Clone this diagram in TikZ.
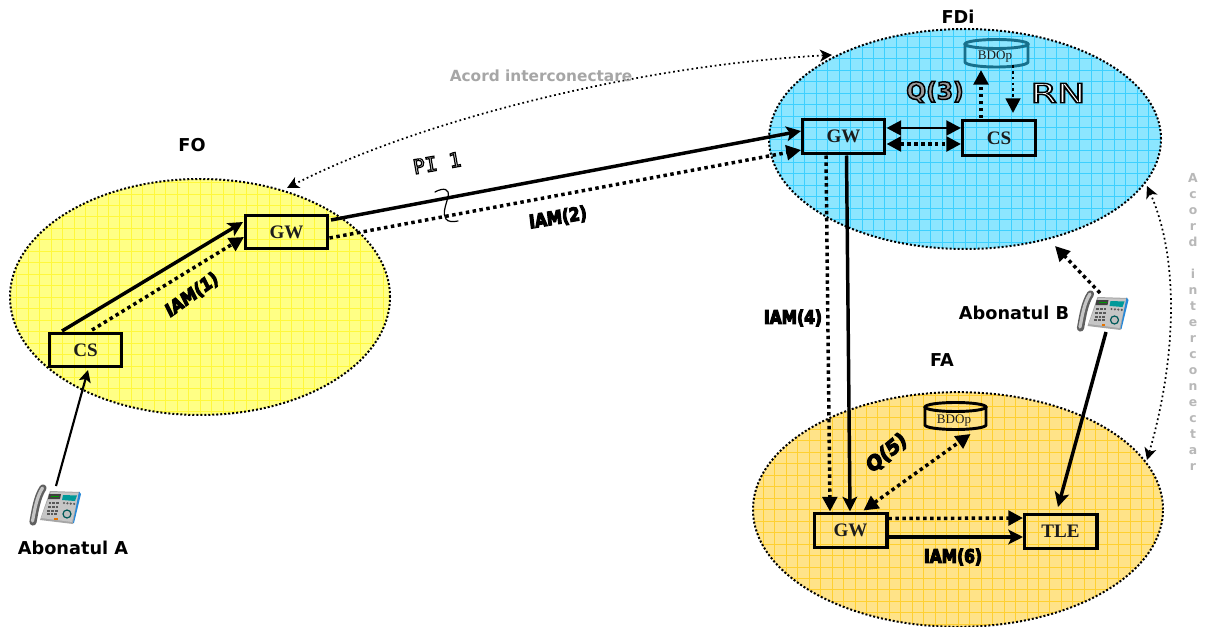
\documentclass[tikz,border=0pt]{standalone}
\usepackage{fontspec}
\usepackage{graphicx}
\setmainfont{DejaVu Sans}
\newfontfamily\boxfont{Liberation Serif}
\newfontfamily\monofnt{DejaVu Sans Mono}
\usetikzlibrary{arrows.meta,calc,shapes.geometric}
\newcommand{\fsz}[1]{\fontsize{#1}{#1}\selectfont}
\newcommand{\ringtext}[3]{\special{pdf:code q 2 Tr #1 w #2 g 0 G}#3\special{pdf:code Q}}
\definecolor{fdfill}{HTML}{8CE6FF}\definecolor{fdgrid}{HTML}{3CD0FF}
\definecolor{fofill}{HTML}{FFFF85}\definecolor{fogrid}{HTML}{FFF83C}
\definecolor{fafill}{HTML}{FFE388}\definecolor{fagrid}{HTML}{FFD030}
\definecolor{teal1}{HTML}{17708C}\definecolor{ink}{HTML}{1C1C1C}
\definecolor{greytxt}{HTML}{A6A6A6}\definecolor{greyvert}{HTML}{B8B8B8}
\tikzset{
 px/.style={x=0.75pt,y=-0.75pt},
 zone/.style n args={2}{ellipse,draw=black,line width=1.5pt,dash pattern=on 1.5pt off 1.5pt,inner sep=0,outer sep=0,fill=#1,
   path picture={\draw[#2,line width=.42pt,solid,step=8.6pt] (path picture bounding box.south west) grid (path picture bounding box.north east);}},
 unit/.style={draw=black,line width=2.5pt,inner sep=0,outer sep=0,fill=none,text=ink,font=\boxfont\bfseries\fsz{14.3pt}},
 solidlink/.style={line width=2.6pt,-{Stealth[length=11pt,width=11pt,inset=2.5pt]}},
 dotlink/.style={line width=2.6pt,dash pattern=on 2.6pt off 2.6pt,-{Stealth[length=11pt,width=11pt,inset=0pt]}},
 dotboth/.style={line width=2.6pt,dash pattern=on 2.6pt off 2.6pt,{Stealth[length=11pt,width=11pt,inset=0pt]}-{Stealth[length=11pt,width=11pt,inset=0pt]}},
 solidboth/.style={line width=2.2pt,{Stealth[length=11pt,width=11pt,inset=0pt]}-{Stealth[length=11pt,width=11pt,inset=0pt]}},
 thinlink/.style={line width=1.6pt,-{Stealth[length=9pt,width=9pt,inset=2pt]}},
 accord/.style={line width=1.3pt,dash pattern=on 1.3pt off 2.2pt,{Stealth[length=9pt,width=9pt,inset=2.5pt]}-{Stealth[length=9pt,width=9pt,inset=2.5pt]}},
 zonelabel/.style={font=\bfseries\fsz{13.3pt},inner sep=0},
 msg/.style={font=\bfseries\fsz{11.6pt},inner sep=0},
 iam/.style={msg,yscale=1.2},
 dbtext/.style={font=\boxfont\fsz{9.8pt},inner sep=0,text=ink},
 telephone/.pic={
  \begin{scope}[shift={(-26.5,-22)}]
   \fill[gray!70] (22,8) -- (52,9) -- (45,41) -- (12,37) -- cycle;
   \fill[gray!45] (23,9) -- (51,10) -- (44,39) -- (13,35) -- cycle;
   \fill[blue!45!cyan!70!gray] (51,8.5) -- (53,11) -- (46,40) -- (45,40) -- cycle;
   \draw[gray!75!black,line width=5.4pt,line cap=round] (15,5) .. controls (9,14) and (7,28) .. (5,39);
   \draw[gray!45,line width=2.4pt,line cap=round] (14.5,5) .. controls (8.5,14) and (6.5,28) .. (4.5,38);
   \fill[black!75] (21,11) -- (33,11) -- (32,16) -- (20,16) -- cycle;
   \fill[green!60!black] (23,12.5) rectangle (31,14);
   \fill[teal!80!cyan] (35,12) -- (49,12.5) -- (47,18) -- (34,17) -- cycle;
   \foreach \i in {0,1,2}{\foreach \j in {0,1,2,3}{
     \fill[gray!70!black] (20.5+\i*3.8-\j*.6,19+\j*3.8) rectangle +(2.8,2);}}
   \foreach \i in {0,1,2,3}{\fill[gray!70!black] (36+\i*3.4,20+\i*.3) circle (1.2);}
   \draw[teal!70!black,line width=.9pt,fill=gray!50] (39,31) circle (4);
   \fill[orange!90!black] (26,34.5) rectangle +(3.5,2);
  \end{scope}}
}
\begin{document}
\begin{tikzpicture}[px]
\useasboundingbox (0,0) rectangle (1206,627);
\fill[white] (0,0) rectangle (1206,627);
% zones
\node[zone={fofill}{fogrid},minimum width=285pt,minimum height=177pt] (FO) at (200,297) {};
\node[zone={fdfill}{fdgrid},minimum width=294pt,minimum height=165pt] (FD) at (965,139) {};
\node[zone={fafill}{fagrid},minimum width=307.5pt,minimum height=176pt] (FA) at (958,509.5) {};
% zone labels
\node[zonelabel] (lFO) at (192,145) {FO};
\node[zonelabel] (lFD) at (958,17) {FDi};
\node[zonelabel] (lFA) at (942,360) {FA};
% units
\node[unit,minimum width=54pt,minimum height=24.6pt] (foCS) at (85.5,350) {CS};
\node[unit,minimum width=61.5pt,minimum height=24.6pt] (foGW) at (286.5,232) {GW};
\node[unit,minimum width=61.5pt,minimum height=25.5pt] (fdGW) at (843.5,136.5) {GW};
\node[unit,minimum width=54.5pt,minimum height=26pt] (fdCS) at (999,138) {CS};
\node[unit,minimum width=54.5pt,minimum height=25.5pt] (faGW) at (850.5,530.5) {GW};
\node[unit,minimum width=54.5pt,minimum height=25.5pt] (faTL) at (1060.5,531.5) {TLE};
% databases
\node[dbtext] (fdB) at (995,57) {BDOp};
\draw[teal1,line width=2.2pt] (965,44) -- (965,62) arc[start angle=180,end angle=0,x radius=31.5,y radius=5] -- (1028,44);
\draw[teal1,line width=2.2pt] (996.5,44) ellipse[x radius=31.5,y radius=4.5];
\node[dbtext] (faB) at (954,421) {BDOp};
\draw[black,line width=2.2pt] (925,407) -- (925,425) arc[start angle=180,end angle=0,x radius=30.5,y radius=4.5] -- (986,407);
\draw[black,line width=2.2pt] (955.5,407) ellipse[x radius=30.5,y radius=4.5];
% telephones
\node[inner sep=0,minimum size=0pt] (phA) at (54.5,505) {};
\pic at (phA) {telephone};
\node[inner sep=0,minimum size=0pt] (phB) at (1102,311) {};
\pic at (phB) {telephone};
\node[zonelabel] (lA) at (73,548) {Abonatul A};
\node[zonelabel] (lB) at (1014,313) {Abonatul B};
% connectors
\draw[thinlink] ($(phA)+(1.5,-19)$) -- ($(foCS)+(2.5,20)$);
\draw[solidlink] ($(foCS)+(-23.5,-19)$) -- ($(foGW)+(-43.5,-10)$);
\draw[dotlink] ($(foCS)+(6.5,-20)$) -- ($(foGW)+(-42.5,5)$);
\draw[solidlink] ($(foGW)+(44.5,-12)$) -- ($(fdGW)+(-42.5,-5.5)$);
\draw[dotlink] ($(foGW)+(43,6)$) -- ($(fdGW)+(-42.5,13.5)$);
\draw[solidboth] ($(fdGW)+(43,-8.5)$) -- ($(fdCS)+(-38,-10)$);
\draw[dotboth] ($(fdGW)+(43,7.5)$) -- ($(fdCS)+(-38,6)$);
\draw[dotlink] ($(fdCS)+(-18,-20)$) -- ($(fdB)+(-14,13)$);
\draw[dotlink,line width=2pt,dash pattern=on 2pt off 2.4pt] ($(fdB)+(18,8)$) -- ($(fdCS)+(14,-25)$);
\draw[dotlink] ($(fdGW)+(-17.5,19)$) -- ($(faGW)+(-20.5,-19)$);
\draw[solidlink] ($(fdGW)+(3,19)$) -- ($(faGW)+(-0.5,-19)$);
\draw[dotboth] ($(faGW)+(13,-20)$) -- ($(faB)+(16.5,13)$);
\draw[dotlink] ($(faGW)+(38,-12)$) -- ($(faTL)+(-37.5,-13.5)$);
\draw[solidlink] ($(faGW)+(38,6.5)$) -- ($(faTL)+(-37.5,5.5)$);
\draw[solidlink] ($(phB)+(4,21)$) -- ($(faTL)+(-2.5,-24.5)$);
\draw[dotlink] ($(phB)+(-2,-18)$) -- ($(FD)+(90,107)$);
\draw[accord] ($(FO)+(87,-109)$) .. controls (420,120) and (640,65) .. ($(FD)+(-133,-84)$);
\draw[accord] ($(FD)+(182,47)$) .. controls (1180,260) and (1176,360) .. ($(FA)+(189,-49.5)$);
% squiggle on the link
\coordinate (sq1) at (435,192);
\coordinate (sq2) at (458,221);
\draw[line width=.9pt,line cap=round] (sq1) .. controls (444,187) and (450,189) .. (448,197) .. controls (446,205) and (442,214) .. (446,219) .. controls (448,222) and (453,222) .. (sq2);
% labels
\node[iam,rotate=31] (m1) at (192,295) {\ringtext{.8}{0}{IAM(1)}};
\node[iam,rotate=8] (m2) at (558,218) {\ringtext{.8}{0}{IAM(2)}};
\node[iam] (m4) at (793,318) {\ringtext{.8}{0}{IAM(4)}};
\node[iam] (m6) at (953,557) {\ringtext{.8}{0}{IAM(6)}};
\node[msg,font=\bfseries\fsz{17.5pt}] (m3) at (935,92) {\ringtext{1.1}{.6}{Q(3)}};
\node[msg,font=\bfseries\itshape\fsz{14.5pt},rotate=40] (m5) at (887,453) {\ringtext{.9}{0}{Q(5)}};
\node[msg,font=\fsz{20pt},xscale=1.42] (rn) at (1058,93) {\ringtext{1}{1}{RN}};
\node[msg,rotate=10,font=\monofnt\fsz{15pt}] (pi) at (437,163) {\ringtext{.9}{1}{PI 1}};
\node[msg,text=greytxt,font=\bfseries\fsz{11.5pt}] (acA) at (541,76) {Acord interconectare};
\node[msg,text=greyvert,font=\bfseries\fontsize{9.3pt}{12pt}\selectfont,align=center,anchor=north] (acB) at (1193,173) {A\\c\\o\\r\\d\\[12pt]i\\n\\t\\e\\r\\c\\o\\n\\e\\c\\t\\a\\r};
\end{tikzpicture}
\end{document}
